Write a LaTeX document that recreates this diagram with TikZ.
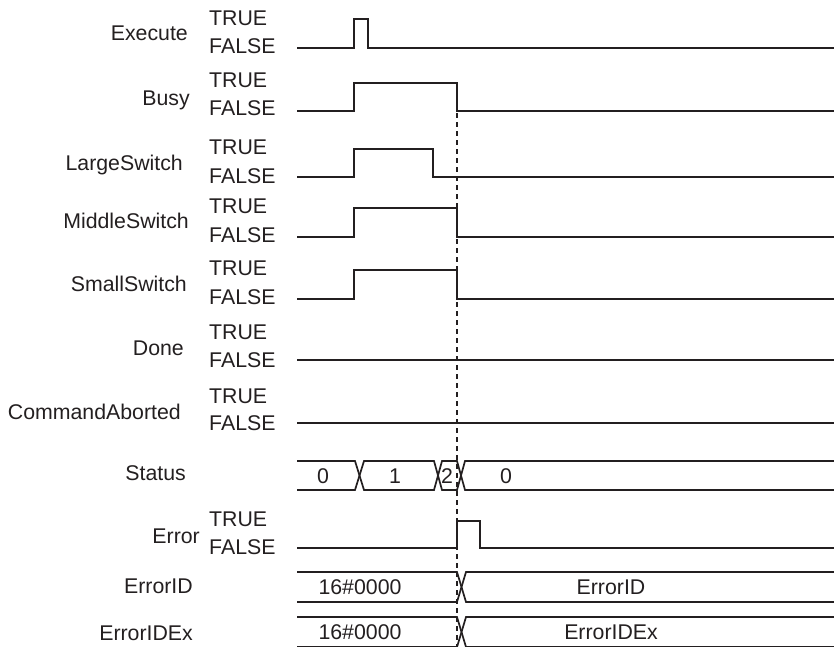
\documentclass[tikz,border=0pt]{standalone}
\usepackage{fontspec}
\setmainfont{Liberation Sans}
\definecolor{WaveBlack}{RGB}{35,31,32}
\usepackage{tikz}

\begin{document}
\begin{tikzpicture}[x=1pt, y=-1pt,
  wave/.style={line width=1.7pt, draw=WaveBlack, line join=miter},
  guide/.style={line width=1.6pt, draw=WaveBlack, dash pattern=on 5pt off 4pt},
  sigtext/.style={font=\fontsize{21.3}{24}\selectfont, text=WaveBlack, inner sep=0pt}]
\useasboundingbox (0,0) rectangle (834,646);
\clip (0,0) rectangle (834,646);

% signal names
\foreach \name/\x/\y in {Execute/188/33, Busy/190/98, LargeSwitch/183/163,
    MiddleSwitch/189/221, SmallSwitch/187/284, Done/184/348,
    CommandAborted/181/412, Status/186/473, Error/200/536,
    ErrorID/193/586, ErrorIDEx/193/633}
  \node[sigtext, anchor=base east] (name-\name) at (\x,\y+7.5) {\name};

% TRUE / FALSE levels
\foreach \sig/\t/\f in {Execute/18/46, Busy/80/108, LargeSwitch/147/176,
    MiddleSwitch/206/235, SmallSwitch/268/297, Done/332/360,
    CommandAborted/396/423, Error/519/547}{
  \node[sigtext, anchor=base west] (true-\sig) at (209,\t+7.5) {TRUE};
  \node[sigtext, anchor=base west] (false-\sig) at (209,\f+7.5) {FALSE};
}

% bit signals
\draw[wave] (297,48) -- (354,48) |- (368,19) |- (834,48);
\draw[wave] (297,111) -- (354,111) |- (457,83) |- (834,111);
\draw[wave] (297,177) -- (354,177) |- (433,149) |- (834,177);
\draw[wave] (297,237) -- (354,237) |- (457,208) |- (834,237);
\draw[wave] (297,299) -- (354,299) |- (457,270) |- (834,299);
\draw[wave] (297,360) -- (834,360);
\draw[wave] (297,423) -- (834,423);
\draw[wave] (297,548) -- (457,548) |- (480,521) |- (834,548);

% Status bus
\draw[wave] (297,461) -- (355,461) -- (364,490) -- (434,490) -- (442,461)
  -- (457,461) -- (465,490) -- (834,490);
\draw[wave] (297,490) -- (355,490) -- (364,461) -- (434,461) -- (442,490)
  -- (457,490) -- (465,461) -- (834,461);
\foreach \val/\x [count=\i] in {0/323, 1/395, 2/447, 0/506}
  \node[sigtext, anchor=base] (status-\i) at (\x,483.5) {\val};

% ErrorID and ErrorIDEx buses
\foreach \top/\lbl/\txt in {572/err/ErrorID, 617/errex/ErrorIDEx}{
  \draw[wave] (297,\top) -- (457,\top) -- (466,\top+30) -- (834,\top+30);
  \draw[wave] (297,\top+30) -- (457,\top+30) -- (466,\top) -- (834,\top);
  \node[sigtext, anchor=base] (\lbl-old) at (360,\top+22.5) {16\#0000};
  \node[sigtext, anchor=base] (\lbl-new) at (611,\top+22.5) {\txt};
}

% error timing
\draw[guide] (457,113) -- (457,646);
\end{tikzpicture}
\end{document}
